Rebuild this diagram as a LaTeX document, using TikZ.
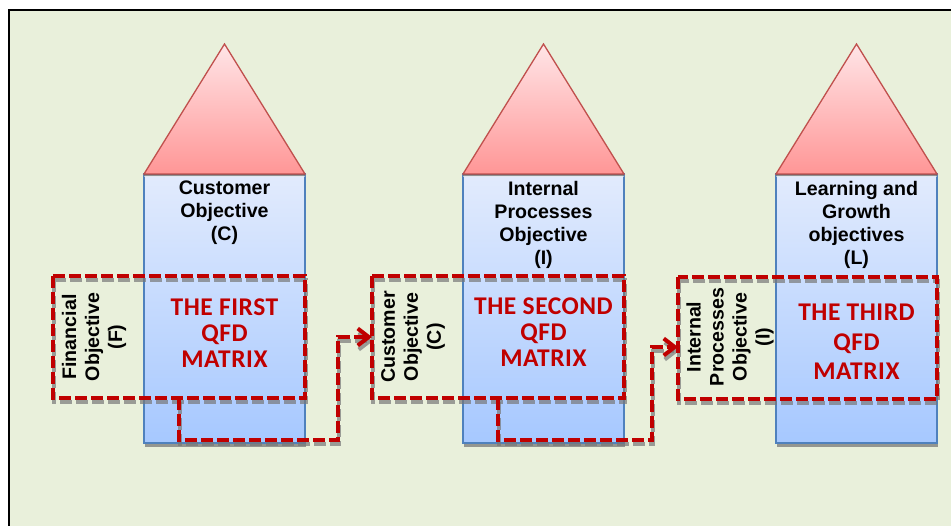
\documentclass[tikz,border=0pt]{standalone}
\usepackage{fontspec}
\setmainfont{Liberation Sans}
\newfontfamily\matrixfont[LetterSpace=2]{Carlito}
\usetikzlibrary{arrows.meta,calc}
\definecolor{bggreen}{RGB}{233,240,219}
\definecolor{coltop}{RGB}{226,235,253}
\definecolor{colbot}{RGB}{166,200,255}
\definecolor{colline}{RGB}{79,129,189}
\definecolor{roofline}{RGB}{192,80,77}
\definecolor{rooftop}{RGB}{255,229,231}
\definecolor{roofbot}{RGB}{255,150,150}
\definecolor{qfdred}{RGB}{192,0,0}
\definecolor{shade}{RGB}{120,120,120}
\begin{document}
\begin{tikzpicture}[x=1pt,y=-1pt,
  colbox/.style={draw=colline,line width=1.4pt,top color=coltop,bottom color=colbot},
  roof/.style={draw=roofline,line width=1.3pt,top color=rooftop,bottom color=roofbot,line join=miter},
  colshadow/.style={fill=shade,opacity=0.75},
  headtext/.style={font=\bfseries\fontsize{19.6}{23}\selectfont,align=center,inner sep=0pt,anchor=north},
  sidetext/.style={font=\bfseries\fontsize{19.6}{23}\selectfont,align=center,inner sep=0pt,rotate=90},
  qfdtext/.style={font=\matrixfont\bfseries\fontsize{25.5}{26}\selectfont,text=qfdred,align=center,inner sep=0pt},
  holder/.style={rectangle,inner sep=0pt,outer sep=0pt},
  reddash/.style={draw=qfdred,line width=4pt,dash pattern=on 12pt off 4pt},
  greydash/.style={draw=shade,opacity=0.7,line width=4pt,dash pattern=on 12pt off 4pt},
  conn/.style={reddash,-{Straight Barb[length=11pt,width=17pt,line width=4pt]}},
  connshadow/.style={greydash,-{Straight Barb[length=11pt,width=17pt,line width=4pt]}},
]
\useasboundingbox (0,0) rectangle (951,526);
\clip (0,0) rectangle (951,526);
\fill[white] (0,0) rectangle (951,526);
\draw[line width=1.5pt,fill=bggreen] (9,10) rectangle (975,545);

% the three columns
\path (224.5,308.5) node[holder,minimum width=161pt,minimum height=269pt] (col1) {};
\path (543.5,308.5) node[holder,minimum width=161pt,minimum height=269pt] (col2) {};
\path (856.5,308.5) node[holder,minimum width=161pt,minimum height=269pt] (col3) {};

\foreach \c in {col1,col2,col3}{
  \fill[colshadow] ([shift={(1,0)}]\c.south west) rectangle ([shift={(1,4)}]\c.south east);
  \draw[colbox] (\c.north west) rectangle (\c.south east);
  \fill[shade,opacity=0.6] (\c.north west) rectangle ([shift={(0,2.5)}]\c.north east);
  \draw[roof] (\c.north west) -- ($(\c.north)+(0,-130)$) -- (\c.north east) -- cycle;
}

% column headings
\node[headtext] (h1) at ($(col1.north)+(0,7)$) {Customer\\Objective\\(C)};
\node[headtext] (h2) at ($(col2.north)+(0,7)$) {Internal\\Processes\\Objective\\(I)};
\node[headtext] (h3) at ($(col3.north)+(0,7)$) {Learning and\\Growth\\objectives\\(L)};

% row headings
\node[sidetext] (s1) at (94,337) {Financial\\Objective\\(F)};
\node[sidetext] (s2) at (413,337) {Customer\\Objective\\(C)};
\node[sidetext] (s3) at (730,337) {Internal\\Processes\\Objective\\(I)};

% matrix titles
\node[qfdtext] (q1) at (224.5,333) {THE FIRST\\QFD\\MATRIX};
\node[qfdtext] (q2) at (543.5,332) {THE SECOND\\QFD\\MATRIX};
\node[qfdtext,font=\matrixfont\bfseries\fontsize{25.5}{29.5}\selectfont] (q3) at (856.5,342) {THE THIRD\\QFD\\MATRIX};

% dashed matrix frames
\path (179,337) node[holder,minimum width=252pt,minimum height=122pt] (fr1) {};
\path (498,337) node[holder,minimum width=252pt,minimum height=122pt] (fr2) {};
\path (807.5,338) node[holder,minimum width=259pt,minimum height=122pt] (fr3) {};

\coordinate (k1) at (338,440);
\coordinate (k2) at (652,440);
\coordinate (t3) at ($(fr3.west)+(0,9)$);

\foreach \f in {fr1,fr2,fr3}{
  \draw[greydash] ([shift={(1,4)}]\f.north west) rectangle ([shift={(1,4)}]\f.south east);
}
\draw[connshadow] ([shift={(1,4)}]fr1.south) |- ([shift={(1,4)}]k1) |- ([shift={(1,4)}]fr2.west);
\draw[connshadow] ([shift={(1,4)}]fr2.south) |- ([shift={(1,4)}]k2) |- ([shift={(1,4)}]t3);

\foreach \f in {fr1,fr2,fr3}{
  \draw[reddash] (\f.north west) rectangle (\f.south east);
}
\draw[conn] (fr1.south) |- (k1) |- (fr2.west);
\draw[conn] (fr2.south) |- (k2) |- (t3);
\end{tikzpicture}
\end{document}
